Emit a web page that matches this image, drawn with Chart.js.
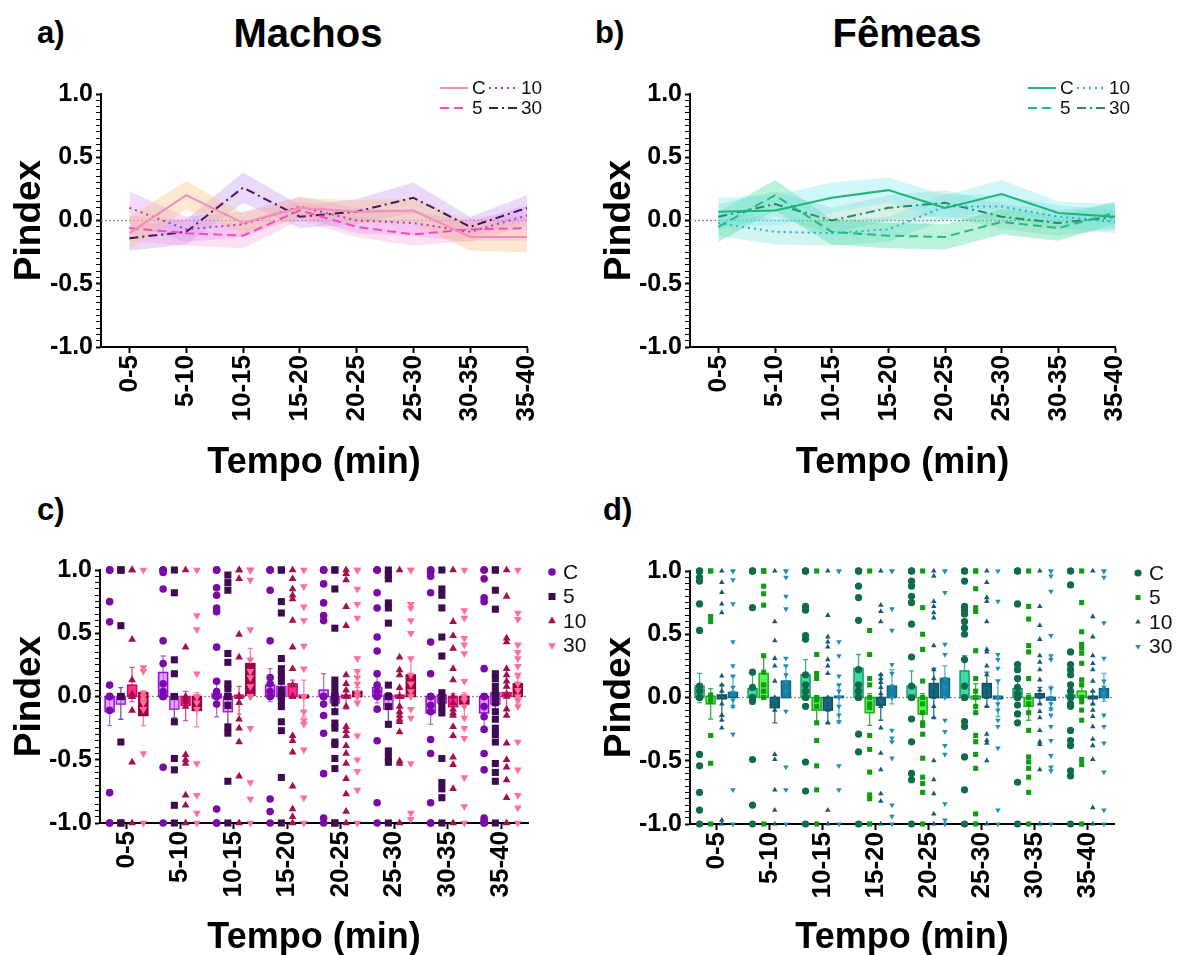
<!DOCTYPE html>
<html>
<head>
<meta charset="utf-8">
<script src="https://cdn.jsdelivr.net/npm/chart.js@4.4.0/dist/chart.umd.min.js"></script>
<style>
  body { margin: 0; width: 1180px; height: 955px; overflow: hidden; background: #fff; position: relative;
         font-family: "Liberation Sans", Arial, sans-serif; }
  canvas { position: absolute; }
  .lbl { position: absolute; font-weight: bold; color: #000; line-height: 1; white-space: nowrap; }
  .ttl { transform: translate(-50%, -50%); font-size: 40px; }
</style>
</head>
<body>
<div class="lbl" style="left:37px;top:17px;font-size:31px">a)</div>
<div class="lbl ttl" style="left:308px;top:33px">Machos</div>
<div class="lbl" style="left:595px;top:17px;font-size:31px">b)</div>
<div class="lbl ttl" style="left:907px;top:33px">Fêmeas</div>
<div class="lbl" style="left:37px;top:494px;font-size:31px">c)</div>
<div class="lbl" style="left:603px;top:494px;font-size:31px">d)</div>

<canvas id="chartA" width="590" height="420" style="left:0;top:70px"></canvas>
<canvas id="chartB" width="590" height="420" style="left:590px;top:70px"></canvas>
<canvas id="chartC" width="600" height="416" style="left:0;top:545px"></canvas>
<canvas id="chartD" width="590" height="416" style="left:590px;top:545px"></canvas>

<script>
// --- data ---
const periods = ['0-5', '5-10', '10-15', '15-20', '20-25', '25-30', '30-35', '35-40'];
const groups = ['C', '5', '10', '30'];

// a) Machos: mean and SEM per group
const machosMean = {
    C:    [-0.10, 0.20, -0.02, 0.10, 0.07, 0.08, -0.13, -0.13],
    '5':  [-0.06, -0.10, -0.12, 0.08, -0.05, -0.11, -0.07, -0.06],
    '10': [0.10, -0.07, -0.03, 0.11, 0.00, -0.02, -0.09, 0.04],
    '30': [-0.14, -0.09, 0.26, 0.03, 0.07, 0.18, -0.05, 0.10]
};
const machosSem = {
    C:    [0.13, 0.11, 0.08, 0.08, 0.09, 0.10, 0.11, 0.12],
    '5':  [0.10, 0.10, 0.10, 0.08, 0.08, 0.09, 0.09, 0.10],
    '10': [0.13, 0.10, 0.10, 0.08, 0.10, 0.10, 0.08, 0.08],
    '30': [0.10, 0.10, 0.12, 0.09, 0.10, 0.12, 0.08, 0.10]
};

// b) Fêmeas
const femeasMean = {
    C:    [0.07, 0.08, 0.18, 0.24, 0.10, 0.21, 0.06, 0.03],
    '5':  [-0.05, 0.20, -0.09, -0.12, -0.13, -0.01, -0.06, 0.06],
    '10': [-0.02, -0.09, -0.10, -0.07, 0.11, 0.11, 0.03, -0.01],
    '30': [0.03, 0.13, 0.00, 0.10, 0.14, 0.03, -0.02, 0.03]
};
const femeasSem = {
    C:    [0.11, 0.12, 0.12, 0.10, 0.10, 0.11, 0.09, 0.10],
    '5':  [0.12, 0.12, 0.10, 0.10, 0.10, 0.10, 0.10, 0.09],
    '10': [0.10, 0.10, 0.10, 0.10, 0.10, 0.09, 0.09, 0.09],
    '30': [0.10, 0.10, 0.10, 0.10, 0.10, 0.10, 0.10, 0.10]
};

// c) Machos, individual values per period
const machosPtsC = [
    [1, 1, 1, 0.75, 0.59, 0.09, 0, 0, 0, 0, -0.11, -0.76, -1, -1],
    [1, 1, 1, 0.98, 0.85, 0.44, 0.26, 0.1, 0.04, 0, 0, 0, -0.56, -1],
    [1, 1, 1, 0.86, 0.8, 0.7, 0.67, 0.39, 0.12, 0.04, 0, 0, 0, -0.06, -0.89, -1, -1],
    [1, 1, 1, 0.84, 0.44, 0.15, 0.1, 0.04, 0, 0, -0.81, -0.91, -1],
    [1, 1, 1, 0.89, 0.74, 0.64, 0.6, 0, 0, 0, -0.06, -0.15, -0.29, -0.61, -0.96, -1],
    [1, 1, 1, 0.82, 0.7, 0.47, 0.36, 0.18, 0.09, 0.04, 0, 0, -0.1, -0.35, -0.84, -1],
    [1, 1, 0.98, 0.95, 0.82, 0.43, 0.18, 0, 0, 0, -0.07, -0.12, -0.34, -0.45, -0.84, -1, -1],
    [1, 1, 0.93, 0.78, 0.75, 0.22, 0, 0, 0, -0.08, -0.16, -0.26, -0.45, -0.58, -0.96, -0.98, -1, -1]
];
const machosPts5 = [
    [1, 1, 1, 0.56, 0, 0, 0, 0, -0.36, -1, -1],
    [1, 0.82, 0.29, 0.18, 0, 0, 0, -0.2, -0.49, -0.58, -0.86, -1],
    [0.96, 0.9, 0.84, 0.34, 0.27, 0.1, 0.06, 0, 0, 0, -0.07, -0.24, -0.29, -0.67, -1],
    [1, 1, 0.75, 0.66, 0.3, 0.22, 0.17, 0.12, 0.05, 0, 0, -0.03, -0.08, -0.2, -0.27, -0.64, -1],
    [1, 1, 0.85, 0.54, 0.13, 0.08, 0.03, 0, 0, -0.05, -0.12, -0.21, -0.25, -0.36, -0.38, -0.49, -0.57, -1, -1],
    [1, 0.96, 0.93, 0.74, 0.7, 0.58, 0.09, 0, 0, 0, -0.08, -0.22, -0.43, -0.48, -0.52, -1],
    [1, 0.85, 0.8, 0.7, 0.47, 0.32, 0.03, 0, -0.03, -0.08, -0.13, -0.49, -0.68, -0.73, -0.8, -1],
    [1, 1, 0.84, 0.69, 0.18, 0.14, 0.08, 0.03, 0, 0, -0.05, -0.12, -0.18, -0.25, -0.3, -0.36, -0.53, -0.6, -0.67, -1]
];
const machosPts10 = [
    [1, 1, 0.45, 0.13, 0.02, 0, 0, 0, -0.11, -0.52, -1],
    [1, 0.39, 0, -0.02, -0.04, -0.08, -0.46, -0.5, -0.53, -0.78, -0.86, -1],
    [1, 1, 0.93, 0.49, 0.31, 0, 0, 0, -0.05, -0.18, -0.25, -0.36, -0.63, -1],
    [1, 0.93, 0.85, 0.8, 0.77, 0.6, 0.39, 0.22, 0.09, 0, 0, -0.31, -0.35, -0.44, -0.71, -0.89, -0.95, -1],
    [1, 0.97, 0.92, 0.71, 0.56, 0.17, 0.1, 0.05, 0, 0, -0.08, -0.24, -0.27, -0.31, -0.39, -0.45, -0.53, -0.65, -0.77, -0.91, -1],
    [1, 0.31, 0.21, 0.17, 0.07, 0, 0, -0.08, -0.12, -0.15, -0.18, -0.2, -0.28, -0.51, -0.53, -1],
    [1, 0.59, 0.48, 0.38, 0.22, 0.13, 0, -0.05, -0.1, -0.13, -0.15, -0.24, -0.31, -0.48, -0.54, -0.73, -1],
    [1, 0.79, 0.46, 0.43, 0.22, 0.17, 0.12, 0.08, 0.02, 0, -0.1, -0.15, -0.37, -0.5, -0.56, -0.66, -0.8, -1]
];
const machosPts30 = [
    [1, 0.23, 0.2, 0.03, 0, -0.03, -0.05, -0.1, -0.45, -1],
    [1, 0.64, 0.53, 0.18, 0, 0, -0.05, -0.1, -0.53, -0.78, -0.92, -1],
    [1, 1, 1, 0.92, 0.53, 0.29, 0.2, 0.15, 0.08, 0, 0, -0.25, -0.68, -0.81, -1],
    [1, 0.87, 0.71, 0.6, 0.4, 0.22, 0, 0, 0, -0.12, -0.19, -0.22, -0.42, -0.8, -1],
    [1, 1, 0.85, 0.73, 0.62, 0.3, 0.2, 0.15, 0.1, 0.03, 0, -0.05, -0.31, -0.5, -0.59, -0.74, -1],
    [1, 1, 0.73, 0.7, 0.6, 0.5, 0.3, 0.17, 0.1, 0.04, 0, -0.1, -0.17, -0.53, -0.92, -0.97],
    [1, 0.68, 0.62, 0.46, 0.41, 0.34, 0.12, 0, 0, -0.03, -0.08, -0.17, -0.25, -0.33, -0.64, -0.87, -1],
    [1, 0.66, 0.61, 0.41, 0.35, 0.3, 0.24, 0.17, 0.1, 0.05, 0, -0.03, -0.08, -0.36, -0.58, -0.78, -0.88, -1]
];

// c) box (lo/hi) and whiskers (lo/hi)
const machosBoxLo = { C: [-0.12, 0, -0.01, 0, 0, 0, -0.13, -0.13], '5': [-0.06, -0.1, -0.12, 0, -0.05, -0.1, -0.05, -0.06],
                      '10': [0, -0.07, -0.01, 0, -0.01, -0.01, -0.08, 0], '30': [-0.15, -0.11, 0.01, -0.01, 0, 0, -0.06, 0] };
const machosBoxHi = { C: [0, 0.19, 0.02, 0.09, 0.05, 0.07, 0, 0], '5': [0, 0, 0, 0.08, 0, 0.01, 0.01, 0.03],
                      '10': [0.09, 0, 0.01, 0.1, 0.01, 0.01, 0, 0.03], '30': [0.03, 0, 0.26, 0.01, 0.04, 0.17, 0, 0.1] };
const machosWhLo = { C: [-0.23, 0, -0.16, -0.04, 0, -0.05, -0.22, -0.27], '5': [-0.18, -0.17, -0.3, -0.06, -0.12, -0.22, -0.12, -0.1],
                     '10': [-0.04, -0.19, -0.14, 0, -0.1, -0.08, -0.15, -0.1], '30': [-0.23, -0.24, 0, -0.16, -0.05, 0, -0.17, -0.05] };
const machosWhHi = { C: [0, 0.32, 0.12, 0.22, 0.18, 0.2, 0, 0], '5': [0.07, 0.01, 0.08, 0.18, 0.03, 0.03, 0.04, 0.08],
                     '10': [0.23, 0.04, 0.08, 0.13, 0.05, 0.06, 0.02, 0.07], '30': [0.04, 0.03, 0.38, 0.13, 0.07, 0.3, 0.03, 0.15] };

// d) Fêmeas, individual values per period
const femeasPtsC = [
    [1, 1, 1, 0.95, 0.92, 0.74, 0.53, 0.09, 0.05, 0, 0, -0.45, -0.54, -0.75, -0.89, -1],
    [1, 1, 1, 1, 0.71, 0.2, 0.08, 0, 0, -0.03, -0.49, -0.85, -1],
    [1, 1, 1, 1, 0.72, 0.69, 0.49, 0.46, 0.18, 0.1, 0.05, 0, 0, -0.07, -0.51, -0.74, -1],
    [1, 1, 1, 0.88, 0.79, 0.61, 0.22, 0.1, 0.05, 0, 0, -0.29, -0.43, -1],
    [1, 1, 1, 0.92, 0.88, 0.8, 0.75, 0.58, 0.32, 0.09, 0, 0, -0.17, -0.35, -0.6, -0.65, -1],
    [1, 1, 1, 0.92, 0.72, 0.69, 0.66, 0.6, 0.55, 0.5, 0.3, 0.09, 0, 0, -0.19, -0.23, -0.47, -0.73, -1],
    [1, 1, 1, 0.74, 0.26, 0.22, 0.15, 0.08, 0.03, 0, 0, -0.06, -0.13, -0.2, -0.67, -1],
    [1, 1, 0.89, 0.36, 0.26, 0.22, 0.18, 0.1, 0.05, 0, 0, -0.05, -0.07, -0.26, -0.34, -0.38, -0.58, -0.62, -1]
];
const femeasPts5 = [
    [1, 1, 0.64, 0.6, 0.02, 0, -0.03, -0.3, -0.52, -1],
    [1, 1, 1, 0.88, 0.82, 0.73, 0.33, 0.2, 0.1, 0.05, 0, -1],
    [1, 0.34, 0.19, 0.15, 0, -0.02, -0.07, -0.2, -0.34, -0.54, -0.73, -1],
    [1, 0.53, 0.34, 0.15, 0.1, 0, -0.05, -0.08, -0.3, -0.41, -0.59, -0.77, -0.8, -1],
    [1, 0.71, 0.5, 0.38, 0.13, 0, -0.05, -0.12, -0.2, -0.22, -0.29, -0.48, -0.63, -0.68, -0.75, -1],
    [1, 1, 0.86, 0.71, 0.68, 0.37, 0.15, 0.05, 0, 0, -0.07, -0.12, -0.3, -0.35, -0.45, -0.56, -0.92, -1],
    [1, 0.72, 0.62, 0.41, 0.36, 0.15, 0, -0.05, -0.12, -0.26, -0.47, -0.51, -0.56, -0.63, -0.75, -1],
    [1, 0.75, 0.52, 0.42, 0.39, 0.35, 0.27, 0.14, 0.1, 0, -0.03, -0.1, -0.18, -0.49, -0.53, -1]
];
const femeasPts10 = [
    [1, 0.91, 0.83, 0.74, 0.67, 0.17, 0.1, 0.05, 0, -0.05, -0.14, -0.18, -0.24, -0.97, -1],
    [1, 0.6, 0.45, 0.31, 0.25, 0.13, 0, -0.05, -0.1, -0.45, -0.49, -0.73, -0.89, -1],
    [1, 0.65, 0.48, 0.44, 0.4, 0.3, 0.25, 0.19, 0, -0.06, -0.1, -0.2, -0.89, -1],
    [1, 0.73, 0.68, 0.6, 0.18, 0.15, 0.12, 0.08, 0.03, 0, -0.07, -0.24, -0.44, -0.57, -0.76, -0.82, -1],
    [1, 0.96, 0.76, 0.72, 0.67, 0.63, 0.41, 0.22, 0.15, 0.1, 0.05, 0, -0.07, -0.16, -0.5, -0.65, -0.76, -0.92, -1],
    [1, 0.91, 0.79, 0.76, 0.6, 0.38, 0.36, 0.25, 0.18, 0.1, 0.05, 0, -0.07, -0.29, -0.34, -0.36, -0.5, -1],
    [1, 0.72, 0.57, 0.46, 0.33, 0.28, 0.22, 0.14, 0.06, 0, -0.05, -0.11, -0.16, -0.26, -0.35, -0.37, -0.57, -1],
    [1, 0.64, 0.48, 0.33, 0.27, 0.22, 0.13, 0.05, 0, -0.05, -0.1, -0.15, -0.23, -0.33, -0.38, -0.49, -0.87, -1]
];
const femeasPts30 = [
    [1, 1, 0.93, 0.74, 0.44, 0.25, 0.17, 0.08, 0.04, -0.02, -0.07, -0.29, -0.73, -1],
    [1, 1, 0.95, 0.8, 0.7, 0.31, 0.25, 0.18, 0.12, 0.05, -0.11, -0.55, -0.73, -1],
    [1, 1, 0.44, 0.33, 0.17, 0.1, 0.05, 0, -0.07, -0.14, -0.19, -0.54, -0.73, -1],
    [1, 1, 0.7, 0.53, 0.26, 0.19, 0.09, 0, -0.26, -0.32, -0.35, -0.48, -0.85, -0.94, -1],
    [1, 1, 0.83, 0.42, 0.34, 0.15, 0.08, 0, -0.18, -0.27, -0.38, -0.45, -0.84, -0.97, -1],
    [1, 0.76, 0.34, 0.3, 0.23, 0.13, 0, -0.05, -0.1, -0.18, -0.23, -0.4, -0.89, -1],
    [1, 1, 0.96, 0.84, 0.49, 0.33, 0.3, 0.07, 0, -0.05, -0.09, -0.14, -0.23, -0.34, -0.46, -0.55, -0.58, -1],
    [1, 1, 0.95, 0.59, 0.31, 0.13, 0.08, 0.03, 0, -0.14, -0.23, -0.36, -0.59, -0.89, -1]
];

const femeasBoxLo = { C: [0, 0, 0, 0, 0, 0, 0, 0], '5': [-0.05, 0, -0.1, -0.12, -0.13, -0.01, -0.07, 0],
                      '10': [-0.01, -0.08, -0.1, -0.06, 0, 0, 0, -0.01], '30': [0, 0, 0, 0, 0, -0.01, -0.02, 0] };
const femeasBoxHi = { C: [0.09, 0.07, 0.18, 0.23, 0.09, 0.21, 0.07, 0.02], '5': [0.01, 0.19, 0, 0, 0, 0.01, 0, 0.05],
                      '10': [0.02, 0, 0, 0, 0.11, 0.11, 0.03, 0.01], '30': [0.04, 0.13, 0.01, 0.09, 0.15, 0.01, 0, 0.07] };
const femeasWhLo = { C: [-0.04, -0.05, 0, 0, 0, 0, 0, -0.03], '5': [-0.17, 0, -0.2, -0.22, -0.23, -0.12, -0.18, -0.05],
                     '10': [-0.15, -0.2, -0.2, -0.18, -0.16, -0.07, -0.05, -0.05], '30': [-0.08, 0, -0.2, -0.05, 0, -0.15, -0.1, -0.03] };
const femeasWhHi = { C: [0.19, 0.22, 0.3, 0.34, 0.21, 0.33, 0.17, 0.11], '5': [0.07, 0.33, 0, 0.03, 0.03, 0.11, 0.03, 0.14],
                     '10': [0.1, 0, 0, 0.18, 0.23, 0.2, 0.08, 0.05], '30': [0.17, 0.25, 0.1, 0.22, 0.25, 0.14, 0.09, 0.19] };

// --- styling ---
const groupOffset = [-0.32, -0.11, 0.1, 0.31];
const lineDash = [[], [9, 5], [2, 4], [9, 4, 2, 4]];
const machosLine = ['#f48cb8', '#ec4fc4', '#a63dbd', '#4b1462'];
const machosBand = ['rgba(250,195,140,0.4)', 'rgba(248,150,220,0.3)', 'rgba(215,150,240,0.35)', 'rgba(185,130,235,0.3)'];
const femeasLine = ['#1fb57a', '#27b985', '#3aa9d3', '#2a8a68'];
const femeasBand = ['rgba(120,232,240,0.35)', 'rgba(60,218,155,0.35)', 'rgba(110,222,210,0.3)', 'rgba(130,205,175,0.3)'];

const machosPoint = ['#7a0aa8', '#3e0a52', '#a3104f', '#ff6f96'];
const machosFill = ['rgba(200,110,250,0.6)', 'rgba(205,100,240,0.6)', '#ff2d87', '#a8004a'];
const machosEdge = ['#a400f0', '#b020e0', '#e0006a', '#8a0040'];
const machosWhisk = ['#b070d0', '#7a5090', '#e0508a', '#ff7fa0'];

const femeasPoint = ['#0e6b4c', '#129a12', '#1b5876', '#1f8eb5'];
const femeasFill = ['#3ddca0', '#5ef05a', '#156a78', '#1a7fa5'];
const femeasEdge = ['#1a9a6a', '#1ab01a', '#0f4f60', '#0f6585'];
const femeasWhisk = ['#3cae84', '#3ab03a', '#2a6f85', '#5ab0cc'];

const markerStyle = [
    { pointStyle: 'circle', rotation: 0 },
    { pointStyle: 'rect', rotation: 0 },
    { pointStyle: 'triangle', rotation: 0 },
    { pointStyle: 'triangle', rotation: 180 }
];

Chart.defaults.font.family = "'Liberation Sans', Arial, sans-serif";
Chart.defaults.color = '#000';
Chart.defaults.animation = false;
Chart.defaults.plugins.legend.display = false;
Chart.defaults.plugins.tooltip.enabled = false;

const yTickVals = [];
for (let i = -20; i <= 20; i++) yTickVals.push(i / 20);
const isMajor = v => Math.abs(v * 2 - Math.round(v * 2)) < 1e-9;

function yAxis(width) {
    return {
        min: -1, max: 1,
        afterBuildTicks: s => { s.ticks = yTickVals.map(v => ({ value: v })); },
        afterFit: s => { s.width = width; },
        ticks: {
            autoSkip: false, padding: 3, color: '#000',
            font: { size: 25, weight: 'bold' },
            callback: v => isMajor(v) ? (Math.abs(v) < 1e-9 ? '0.0' : v.toFixed(1)) : ''
        },
        grid: { drawOnChartArea: false, tickLength: 5, tickColor: '#000',
                tickWidth: c => isMajor(c.tick.value) ? 2 : 1 },
        border: { color: '#000', width: 2 },
        title: { display: true, text: 'Pindex', color: '#000', font: { size: 37, weight: 'bold' }, padding: { top: 8 } }
    };
}

function xAxis(min, max, height, titlePad) {
    return {
        type: 'linear', min: min, max: max,
        afterBuildTicks: s => { s.ticks = periods.map((_, i) => ({ value: i })); },
        afterFit: s => { s.height = height; },
        ticks: {
            autoSkip: false, minRotation: 90, maxRotation: 90, padding: 2, color: '#000',
            font: { size: 26, weight: 'bold' },
            callback: v => periods[v]
        },
        grid: { drawOnChartArea: false, tickLength: 6, tickColor: '#000', tickWidth: 2 },
        border: { color: '#000', width: 2 },
        title: { display: true, text: 'Tempo (min)', color: '#000', font: { size: 36, weight: 'bold' }, padding: { bottom: titlePad } }
    };
}

const zeroLine = {
    id: 'zeroLine',
    beforeDatasetsDraw(chart) {
        const { ctx, chartArea, scales: { y } } = chart;
        const py = y.getPixelForValue(0);
        ctx.save();
        ctx.strokeStyle = '#8c8c8c';
        ctx.lineWidth = 1.3;
        ctx.setLineDash([2, 2]);
        ctx.beginPath();
        ctx.moveTo(chartArea.left, py);
        ctx.lineTo(chartArea.right, py);
        ctx.stroke();
        ctx.restore();
    }
};

const lineLegend = {
    id: 'lineLegend',
    afterDraw(chart) {
        const { ctx, chartArea } = chart;
        const series = chart.data.datasets.filter(d => !d.isBand);
        series.forEach((d, k) => {
            const col = Math.floor(k / 2), row = k % 2;
            const x0 = chartArea.right - 87 + col * 49;
            const yy = chartArea.top - 6 + row * 20;
            ctx.save();
            ctx.strokeStyle = d.borderColor;
            ctx.lineWidth = 2;
            ctx.setLineDash(d.borderDash);
            ctx.beginPath();
            ctx.moveTo(x0, yy);
            ctx.lineTo(x0 + 28, yy);
            ctx.stroke();
            ctx.setLineDash([]);
            ctx.fillStyle = '#111';
            ctx.font = "19px 'Liberation Sans', Arial, sans-serif";
            ctx.textBaseline = 'middle';
            ctx.fillText(d.label, x0 + 32, yy + 1);
            ctx.restore();
        });
    }
};

const markerLegend = {
    id: 'markerLegend',
    afterDraw(chart) {
        const { ctx, chartArea } = chart;
        chart.data.datasets.forEach((d, k) => {
            const yy = chartArea.top + 2 + k * 24.5;
            ctx.save();
            ctx.fillStyle = d.backgroundColor;
            ctx.strokeStyle = d.backgroundColor;
            Chart.helpers.drawPoint(ctx, { pointStyle: d.pointStyle, rotation: d.rotation, radius: d.pointRadius, borderWidth: 0 },
                                    chartArea.right + 24, yy);
            ctx.fillStyle = '#111';
            ctx.font = "21px 'Liberation Sans', Arial, sans-serif";
            ctx.textBaseline = 'middle';
            ctx.fillText(d.label, chartArea.right + 35, yy + 1);
            ctx.restore();
        });
    }
};

function boxPlugin(lo, hi, wLo, wHi, fills, edges, whisk) {
    return {
        id: 'boxes',
        beforeDatasetsDraw(chart) {
            const { ctx, scales: { x, y } } = chart;
            ctx.save();
            groups.forEach((g, gi) => {
                periods.forEach((_, i) => {
                    const cx = x.getPixelForValue(i + groupOffset[gi]);
                    const half = 4.5;
                    const wt = y.getPixelForValue(wHi[g][i]), wb = y.getPixelForValue(wLo[g][i]);
                    ctx.strokeStyle = whisk[gi];
                    ctx.lineWidth = 1.3;
                    ctx.beginPath();
                    ctx.moveTo(cx, wt); ctx.lineTo(cx, wb);
                    ctx.moveTo(cx - 2.5, wt); ctx.lineTo(cx + 2.5, wt);
                    ctx.moveTo(cx - 2.5, wb); ctx.lineTo(cx + 2.5, wb);
                    ctx.stroke();
                    const top = y.getPixelForValue(hi[g][i]), bot = y.getPixelForValue(lo[g][i]);
                    ctx.fillStyle = fills[gi];
                    ctx.fillRect(cx - half, top, half * 2, bot - top);
                    ctx.strokeStyle = edges[gi];
                    ctx.lineWidth = 1.5;
                    ctx.strokeRect(cx - half, top, half * 2, bot - top);
                });
            });
            ctx.restore();
        }
    };
}

function lineChart(id, means, sems, lineCols, bandCols, yWidth, padRight) {
    const datasets = [];
    groups.forEach((g, gi) => {
        const up = means[g].map((m, i) => ({ x: i, y: m + sems[g][i] }));
        const dn = means[g].map((m, i) => ({ x: i, y: m - sems[g][i] }));
        datasets.push({ isBand: true, data: up, borderWidth: 0, pointRadius: 0, backgroundColor: bandCols[gi], fill: '+1', order: 5 });
        datasets.push({ isBand: true, data: dn, borderWidth: 0, pointRadius: 0, backgroundColor: bandCols[gi], fill: false, order: 5 });
    });
    groups.forEach((g, gi) => {
        datasets.push({
            label: g, data: means[g].map((m, i) => ({ x: i, y: m })),
            borderColor: lineCols[gi], borderWidth: 2, borderDash: lineDash[gi],
            pointRadius: 0, fill: false, tension: 0, order: 1
        });
    });
    return new Chart(document.getElementById(id), {
        type: 'line',
        data: { datasets },
        options: {
            responsive: false,
            layout: { padding: { top: 24, right: padRight, left: 0, bottom: 0 } },
            scales: { x: xAxis(-0.5, 7, 143, 5.4), y: yAxis(yWidth) }
        },
        plugins: [zeroLine, lineLegend]
    });
}

function boxChart(id, pts, lo, hi, wLo, wHi, pointCols, fills, edges, whisk, radii, padTop, xHeight, yWidth, padRight) {
    const datasets = groups.map((g, gi) => {
        const data = [];
        pts[gi].forEach((vals, i) => vals.forEach(v => data.push({ x: i + groupOffset[gi], y: v })));
        return {
            label: g, data, clip: false,
            backgroundColor: pointCols[gi], borderWidth: 0,
            pointStyle: markerStyle[gi].pointStyle, rotation: markerStyle[gi].rotation,
            pointRadius: radii[gi]
        };
    });
    return new Chart(document.getElementById(id), {
        type: 'scatter',
        data: { datasets },
        options: {
            responsive: false,
            layout: { padding: { top: padTop, right: padRight, left: 0, bottom: 0 } },
            scales: { x: xAxis(-0.5, 7.5, xHeight, 1.4), y: yAxis(yWidth) }
        },
        plugins: [zeroLine, boxPlugin(lo, hi, wLo, wHi, fills, edges, whisk), markerLegend]
    });
}

lineChart('chartA', machosMean, machosSem, machosLine, machosBand, 101, 63);
lineChart('chartB', femeasMean, femeasSem, femeasLine, femeasBand, 100, 65);
boxChart('chartC', [machosPtsC, machosPts5, machosPts10, machosPts30], machosBoxLo, machosBoxHi, machosWhLo, machosWhHi,
         machosPoint, machosFill, machosEdge, machosWhisk, [3.8, 5, 4.5, 4.5], 25, 138, 100, 72);
boxChart('chartD', [femeasPtsC, femeasPts5, femeasPts10, femeasPts30], femeasBoxLo, femeasBoxHi, femeasWhLo, femeasWhHi,
         femeasPoint, femeasFill, femeasEdge, femeasWhisk, [3.6, 3.6, 3.2, 3.2], 26, 137, 100, 66);
</script>
</body>
</html>
